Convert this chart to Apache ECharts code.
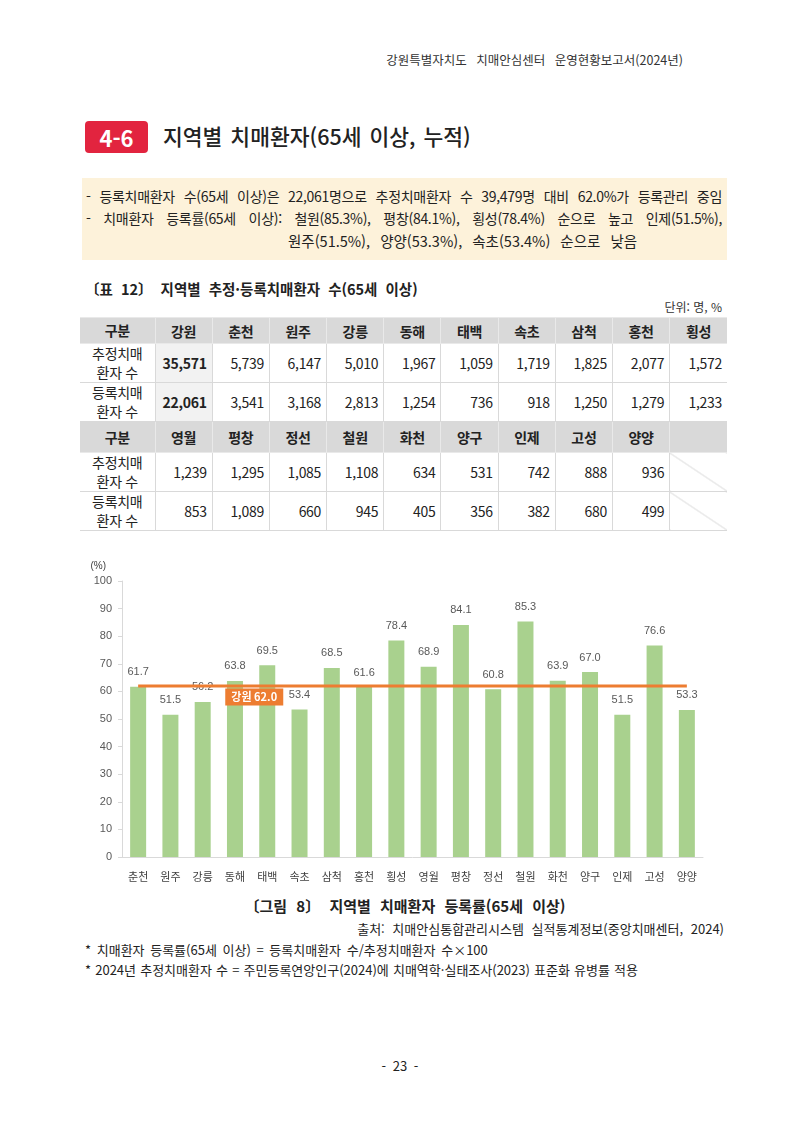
<!DOCTYPE html>
<html lang="ko">
<head>
<meta charset="utf-8">
<title>지역별 치매환자 등록률</title>
<script src="https://cdn.jsdelivr.net/npm/echarts@6/dist/echarts.min.js"></script>
<style>
  html, body { margin: 0; padding: 0; background: #fff; }
  body { width: 800px; height: 1131px; position: relative; font-family: 'Noto Sans CJK KR', 'Noto Sans', sans-serif; color: #222; overflow: hidden; }
  .abs { position: absolute; white-space: nowrap; }
  .hdr { right: 117px; top: 50px; font-size: 12.5px; color: #333; word-spacing: 6px; }
  .badge { left: 85px; top: 121px; width: 63px; height: 32px; background: #E2243F; border-radius: 4px; color: #fff; font-size: 22px; font-weight: 700; text-align: center; line-height: 32px; }
  .title { left: 163px; top: 119px; font-size: 21.5px; font-weight: 500; line-height: 34px; word-spacing: 2px; }
  .summary { left: 82px; top: 178px; width: 645px; height: 82px; background: #FDF2DA; }
  .summary div { position: absolute; font-size: 14px; letter-spacing: -0.3px; color: #222; white-space: nowrap; }
  .summary .just { width: 636px; white-space: normal; text-align: justify; text-align-last: justify; }
  .ttl { left: 85px; top: 278px; font-size: 14.5px; font-weight: 700; word-spacing: 4px; }
  .unit { right: 78px; top: 298px; font-size: 12px; color: #333; }
  table { position: absolute; left: 80px; top: 317px; width: 647px; border-collapse: collapse; table-layout: fixed; font-size: 14px; }
  td { border: 1px solid #D9D9D9; padding: 0 5px; text-align: right; letter-spacing: -0.3px; }
  tr td:first-child { border-left: none; text-align: center; line-height: 19px; }
  tr td:last-child { border-right: none; }
  tr.head td { background: #D9D9D9; font-weight: 700; text-align: center; border-color: #E9E9E9; }
  td.gw { background: #F2F2F2; font-weight: 700; }
  td.diag { background: linear-gradient(to top right, transparent calc(50% - 0.6px), #C8C8C8 50%, transparent calc(50% + 0.6px)); }
  tr.head td.diag { background-color: #D9D9D9; }
  #chart { position: absolute; left: 80px; top: 550px; width: 640px; height: 345px; }
  .cap { left: 0; width: 810px; top: 895px; text-align: center; font-size: 15px; font-weight: 700; word-spacing: 5px; }
  .src { right: 76px; top: 919px; font-size: 13px; color: #222; word-spacing: 4px; }
  .note { left: 85px; font-size: 13px; color: #222; }
  .page { left: 0; width: 800px; top: 1056px; text-align: center; font-size: 13px; word-spacing: 3px; }
</style>
</head>
<body>
<div class="abs hdr">강원특별자치도 치매안심센터 운영현황보고서(2024년)</div>
<div class="abs badge">4-6</div>
<div class="abs title">지역별 치매환자(65세 이상, 누적)</div>
<div class="abs summary">
  <div class="just" style="left:4px; top:8px;">- 등록치매환자 수(65세 이상)은 22,061명으로 추정치매환자 수 39,479명 대비 62.0%가 등록관리 중임</div>
  <div class="just" style="left:4px; top:30px;">- 치매환자 등록률(65세 이상): 철원(85.3%), 평창(84.1%), 횡성(78.4%) 순으로 높고 인제(51.5%),</div>
  <div style="left:206px; top:52px; font-size:14.5px; letter-spacing:0; word-spacing:6px;">원주(51.5%), 양양(53.3%), 속초(53.4%) 순으로 낮음</div>
</div>
<div class="abs ttl">〔표 12〕 지역별 추정·등록치매환자 수(65세 이상)</div>
<div class="abs unit">단위: 명, %</div>
<table id="tbl"></table>
<div id="chart"></div>
<div class="abs cap">〔그림 8〕 지역별 치매환자 등록률(65세 이상)</div>
<div class="abs src">출처: 치매안심통합관리시스템 실적통계정보(중앙치매센터, 2024)</div>
<div class="abs note" style="top:940px; word-spacing:2px;">* 치매환자 등록률(65세 이상) = 등록치매환자 수/추정치매환자 수×100</div>
<div class="abs note" style="top:960px; word-spacing:0.5px;">* 2024년 추정치매환자 수 = 주민등록연앙인구(2024)에 치매역학·실태조사(2023) 표준화 유병률 적용</div>
<div class="abs page">- 23 -</div>

<script>
// ── Table data ────────────────────────────────────────────────────────────
const TABLE_REGIONS_1 = ['강원', '춘천', '원주', '강릉', '동해', '태백', '속초', '삼척', '홍천', '횡성']
const TABLE_EST_1 = ['35,571', '5,739', '6,147', '5,010', '1,967', '1,059', '1,719', '1,825', '2,077', '1,572']
const TABLE_REG_1 = ['22,061', '3,541', '3,168', '2,813', '1,254', '736', '918', '1,250', '1,279', '1,233']
const TABLE_REGIONS_2 = ['영월', '평창', '정선', '철원', '화천', '양구', '인제', '고성', '양양']
const TABLE_EST_2 = ['1,239', '1,295', '1,085', '1,108', '634', '531', '742', '888', '936']
const TABLE_REG_2 = ['853', '1,089', '660', '945', '405', '356', '382', '680', '499']

// ── Chart data ────────────────────────────────────────────────────────────
const CATEGORIES = ['춘천', '원주', '강릉', '동해', '태백', '속초', '삼척', '홍천', '횡성', '영월', '평창', '정선', '철원', '화천', '양구', '인제', '고성', '양양']
const RATES = [61.7, 51.5, 56.2, 63.8, 69.5, 53.4, 68.5, 61.6, 78.4, 68.9, 84.1, 60.8, 85.3, 63.9, 67.0, 51.5, 76.6, 53.3]
const GANGWON_RATE = 62.0
const Y_TICKS = [0, 10, 20, 30, 40, 50, 60, 70, 80, 90, 100]

// ── Build table ───────────────────────────────────────────────────────────
function buildTable() {
  const tbl = document.getElementById('tbl')
  const label = (a, b) => `<td>${a}<br>${b}</td>`
  const rowH = (h) => `style="height:${h}px"`
  let html = '<colgroup><col style="width:75px">' + '<col>'.repeat(10) + '</colgroup>'

  html += `<tr class="head" ${rowH(26)}><td>구분</td>${TABLE_REGIONS_1.map(r => `<td>${r}</td>`).join('')}</tr>`
  html += `<tr ${rowH(38)}>${label('추정치매', '환자 수')}${TABLE_EST_1.map((v, i) => `<td class="${i === 0 ? 'gw' : ''}">${v}</td>`).join('')}</tr>`
  html += `<tr ${rowH(38)}>${label('등록치매', '환자 수')}${TABLE_REG_1.map((v, i) => `<td class="${i === 0 ? 'gw' : ''}">${v}</td>`).join('')}</tr>`
  html += `<tr class="head" ${rowH(31)}><td>구분</td>${TABLE_REGIONS_2.map(r => `<td>${r}</td>`).join('')}<td class="diag"></td></tr>`
  html += `<tr ${rowH(39)}>${label('추정치매', '환자 수')}${TABLE_EST_2.map(v => `<td>${v}</td>`).join('')}<td class="diag"></td></tr>`
  html += `<tr ${rowH(38)}>${label('등록치매', '환자 수')}${TABLE_REG_2.map(v => `<td>${v}</td>`).join('')}<td class="diag"></td></tr>`
  tbl.innerHTML = html
}

// ── Chart ─────────────────────────────────────────────────────────────────
function initChart() {
  const chart = echarts.init(document.getElementById('chart'))
  const numFont = "'Liberation Sans', Arial, sans-serif"

  chart.setOption({
    animation: false,
    grid: { left: 42, right: 17, top: 31, bottom: 38 },
    xAxis: {
      type: 'category',
      data: CATEGORIES,
      axisLine: { lineStyle: { color: '#D9D9D9', width: 1 } },
      axisTick: { show: false },
      axisLabel: { color: '#404040', fontSize: 11, margin: 14, fontFamily: 'Noto Sans CJK KR' }
    },
    yAxis: {
      type: 'value',
      min: Y_TICKS[0],
      max: Y_TICKS[Y_TICKS.length - 1],
      interval: 10,
      name: '(%)',
      nameGap: 10,
      nameTextStyle: { color: '#404040', fontSize: 10, align: 'right', padding: [0, 16, 0, 0], fontFamily: numFont },
      axisLine: { show: true, lineStyle: { color: '#D9D9D9' } },
      axisTick: { show: true, length: 4, lineStyle: { color: '#D9D9D9' } },
      splitLine: { show: false },
      axisLabel: { color: '#595959', fontSize: 11, margin: 10, fontFamily: numFont }
    },
    series: [
      {
        type: 'bar',
        data: RATES,
        barWidth: 16,
        itemStyle: { color: '#A9D18E' },
        label: {
          show: true,
          position: 'top',
          distance: 9,
          color: '#595959',
          fontSize: 11,
          fontFamily: numFont,
          formatter: (p) => p.value.toFixed(1)
        }
      },
      {
        type: 'line',
        data: CATEGORIES.map(() => GANGWON_RATE),
        showSymbol: false,
        z: 5,
        lineStyle: { color: '#ED7D31', width: 3 },
        markPoint: {
          symbol: 'rect',
          symbolSize: [58, 17],
          symbolOffset: [-13, 11],
          itemStyle: { color: '#ED7D31' },
          label: {
            show: true,
            color: '#fff',
            fontSize: 11,
            fontWeight: 'bold',
            fontFamily: "'Noto Sans CJK KR', sans-serif",
            formatter: () => `강원 ${GANGWON_RATE.toFixed(1)}`
          },
          data: [{ coord: [4, GANGWON_RATE] }]
        }
      }
    ]
  })
  return chart
}

buildTable()
initChart()
</script>
</body>
</html>
